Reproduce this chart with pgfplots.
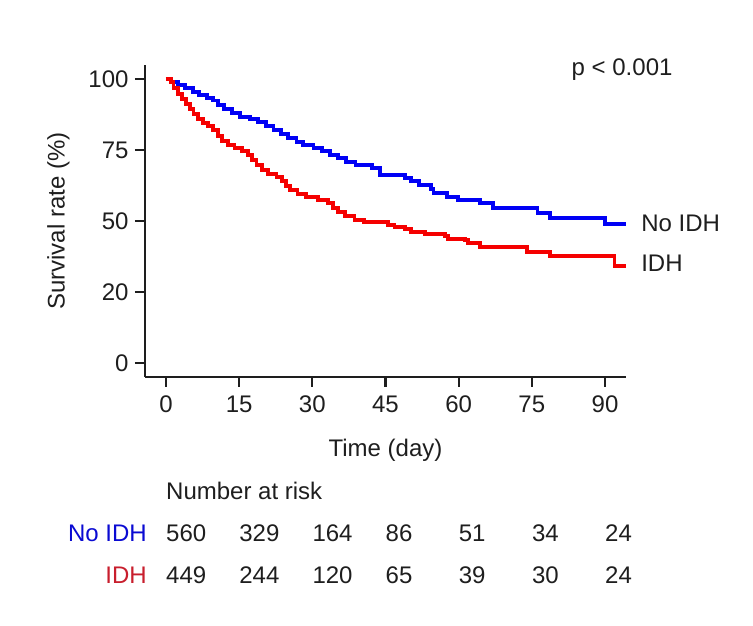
\documentclass[border=0pt]{standalone}
\usepackage{pgfplots}
\pgfplotsset{compat=1.18}
\usepackage{fontspec}
\setmainfont{Liberation Sans}
\definecolor{kmblue}{RGB}{0,0,245}
\definecolor{kmred}{RGB}{245,0,0}
\definecolor{labblue}{RGB}{10,10,210}
\definecolor{labred}{RGB}{200,30,45}
\definecolor{ink}{RGB}{30,30,30}
\newcommand{\chartfont}{\fontsize{24}{28}\selectfont}
\tikzset{risk/.style={anchor=west, font=\chartfont, text=ink, inner sep=0pt}}
\begin{document}
\begin{tikzpicture}[x=1pt,y=1pt]
\useasboundingbox (0,0) rectangle (753,626);
\begin{axis}[
  at={(145pt,249pt)}, anchor=south west,
  scale only axis, width=481pt, height=312pt,
  xmin=-4.3, xmax=94.3, ymin=-4.9, ymax=104.9,
  axis x line*=bottom, axis y line*=left,
  axis line style={line width=2.2pt, ink},
  xtick={0,15,30,45,60,75,90},
  ytick={0,25,50,75,100},
  yticklabels={0,20,50,75,100},
  tick align=outside,
  major tick length=10pt,
  every tick/.style={line width=2.2pt, ink},
  tick label style={font=\chartfont, text=ink},
  xticklabel style={yshift=-5pt},
  yticklabel style={xshift=-3pt},
  /pgf/number format/assume math mode=true,
  xlabel={Time (day)}, ylabel={Survival rate (\%)},
  label style={font=\chartfont, text=ink},
  xlabel style={yshift=-20pt},
  ylabel style={yshift=12pt},
  clip=false,
]
% No IDH
\addplot[const plot, kmblue, line width=3.4pt] coordinates {
(0,100) (1.0,98.9) (2.5,97.9) (3.9,96.8) (5.5,95.4) (6.8,94.4) (8.4,93.3)
(9.6,92.3) (10.7,90.8) (11.9,89.4) (13.5,88.0) (15.2,86.6) (17.2,85.9)
(18.9,84.9) (20.5,83.5) (22.1,82.0) (23.6,80.6) (25.0,79.2) (26.7,77.8)
(28.1,76.8) (30.3,75.7) (32.0,74.6) (33.6,73.2) (35.3,72.2) (36.9,70.8)
(38.9,69.7) (42.2,68.7) (43.9,66.2) (49.0,65.1) (50.2,64.1) (51.9,62.7)
(54.3,61.3) (54.9,59.9) (57.6,58.5) (59.9,57.4) (64.4,56.3) (67.0,54.6)
(76.1,52.8) (78.7,51.1) (90.0,48.9) (94.3,48.9)
};
% IDH
\addplot[const plot, kmred, line width=3.4pt] coordinates {
(0,100) (1.0,98.9) (1.6,96.8) (2.5,94.7) (3.3,93.0) (4.1,91.2) (4.9,89.4)
(5.7,87.7) (6.6,85.9) (7.6,84.5) (8.6,83.5) (9.6,82.0) (10.7,79.9)
(11.5,78.2) (12.7,76.8) (14.1,75.7) (15.6,74.6) (16.8,73.2) (17.6,71.5)
(18.5,69.7) (19.7,68.0) (20.9,66.5) (22.6,65.5) (23.8,64.1) (24.6,62.3)
(25.4,60.9) (26.9,59.5) (28.7,58.5) (31.2,57.4) (33.2,56.3) (34.2,54.6)
(35.3,53.2) (36.7,51.8) (38.7,50.4) (40.6,49.6) (45.5,48.6) (46.9,47.9)
(49.0,47.2) (50.2,46.1) (53.1,45.4) (57.2,44.7) (57.8,43.7) (61.3,43.3)
(61.9,42.3) (64.4,40.8) (74.0,39.1) (78.7,37.7) (92.0,34.2) (94.3,34.2)
};
% curve labels and test result
\node[anchor=west, font=\chartfont, text=ink, inner sep=0pt] at (axis cs:97.4,49.3) {No IDH};
\node[anchor=west, font=\chartfont, text=ink, inner sep=0pt] at (axis cs:97.4,35.2) {IDH};
\node[anchor=center, font=\chartfont, text=ink, inner sep=0pt] at (axis cs:93.5,103.2) {p < 0.001};
% number at risk
\node[risk] at (axis cs:0,-45.1) {Number at risk};
\node[anchor=east, font=\chartfont, text=labblue, inner sep=0pt] at (axis cs:-3.9,-60.0) {No IDH};
\node[anchor=east, font=\chartfont, text=labred, inner sep=0pt] at (axis cs:-3.9,-74.7) {IDH};
\node[risk] at (axis cs:0,-60.0) {560};
\node[risk] at (axis cs:15,-60.0) {329};
\node[risk] at (axis cs:30,-60.0) {164};
\node[risk] at (axis cs:45,-60.0) {86};
\node[risk] at (axis cs:60,-60.0) {51};
\node[risk] at (axis cs:75,-60.0) {34};
\node[risk] at (axis cs:90,-60.0) {24};
\node[risk] at (axis cs:0,-74.7) {449};
\node[risk] at (axis cs:15,-74.7) {244};
\node[risk] at (axis cs:30,-74.7) {120};
\node[risk] at (axis cs:45,-74.7) {65};
\node[risk] at (axis cs:60,-74.7) {39};
\node[risk] at (axis cs:75,-74.7) {30};
\node[risk] at (axis cs:90,-74.7) {24};
\end{axis}
\end{tikzpicture}
\end{document}
